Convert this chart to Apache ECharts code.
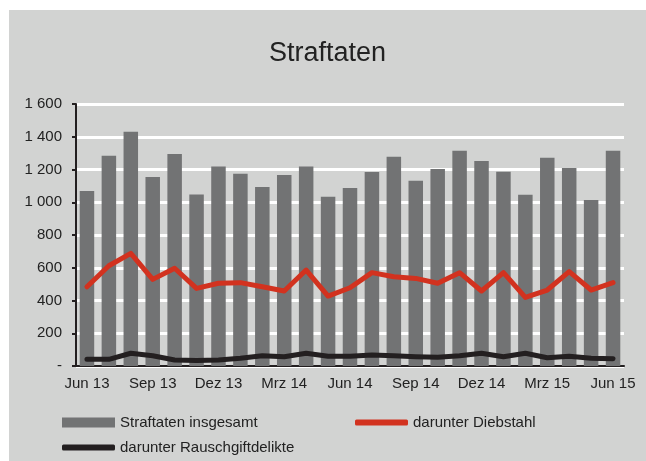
<!DOCTYPE html>
<html>
<head>
<meta charset="utf-8">
<script src="https://cdn.jsdelivr.net/npm/echarts@6/dist/echarts.min.js"></script>
<style>
  html, body { margin: 0; padding: 0; background: #fff; }
  #chart { position: absolute; left: 9px; top: 10px; width: 637px; height: 451px; background: #d2d3d2; }
</style>
</head>
<body>
<div id="chart"></div>
<script>
  // Monatswerte Jun 13 - Jun 15
  const months = ['Jun 13', 'Jul 13', 'Aug 13', 'Sep 13', 'Okt 13', 'Nov 13', 'Dez 13', 'Jan 14', 'Feb 14',
    'Mrz 14', 'Apr 14', 'Mai 14', 'Jun 14', 'Jul 14', 'Aug 14', 'Sep 14', 'Okt 14', 'Nov 14', 'Dez 14',
    'Jan 15', 'Feb 15', 'Mrz 15', 'Apr 15', 'Mai 15', 'Jun 15'];
  const straftaten = [1068, 1284, 1431, 1154, 1295, 1048, 1219, 1174, 1093, 1166, 1219, 1034, 1087,
    1185, 1278, 1132, 1203, 1315, 1252, 1187, 1046, 1272, 1209, 1014, 1315];
  const diebstahl = [484, 612, 688, 529, 597, 474, 505, 509, 484, 458, 586, 427, 478,
    570, 545, 535, 505, 570, 458, 570, 419, 464, 576, 464, 509];
  const rauschgift = [41, 41, 78, 63, 37, 33, 37, 47, 63, 57, 78, 60, 60,
    67, 63, 57, 53, 63, 78, 57, 78, 50, 60, 47, 45];
  const yTicks = [0, 200, 400, 600, 800, 1000, 1200, 1400, 1600];

  const font = 'Liberation Sans, Arial, sans-serif';
  const ink = '#231f20';

  const chart = echarts.init(document.getElementById('chart'));
  chart.setOption({
    textStyle: { fontFamily: font },
    title: {
      text: 'Straftaten',
      left: 'center',
      top: 25,
      textStyle: { fontSize: 27, fontWeight: 'normal', color: '#222', fontFamily: font }
    },
    legend: [
      {
        data: ['Straftaten insgesamt'],
        left: 53, top: 405, padding: 0,
        itemWidth: 53, itemHeight: 10,
        icon: 'rect',
        textStyle: { fontSize: 15, color: '#222' }
      },
      {
        data: ['darunter Diebstahl'],
        left: 346, top: 405, padding: 0,
        itemWidth: 53, itemHeight: 6,
        icon: 'roundRect',
        textStyle: { fontSize: 15, color: '#222' }
      },
      {
        data: ['darunter Rauschgiftdelikte'],
        left: 53, top: 430, padding: 0,
        itemWidth: 53, itemHeight: 6,
        icon: 'roundRect',
        textStyle: { fontSize: 15, color: '#222' }
      }
    ],
    grid: { left: 67, right: 22, top: 94, bottom: 95 },
    xAxis: {
      type: 'category',
      data: months,
      axisLine: { lineStyle: { color: ink, width: 2 } },
      axisTick: { interval: 2, length: 6, lineStyle: { color: ink, width: 2 } },
      axisLabel: { interval: 2, fontSize: 15, color: '#222', margin: 10 }
    },
    yAxis: {
      type: 'value',
      min: yTicks[0],
      max: yTicks[yTicks.length - 1],
      interval: 200,
      axisLine: { show: true, lineStyle: { color: ink, width: 2 } },
      axisTick: { show: true, length: 4, lineStyle: { color: ink, width: 2 } },
      axisLabel: {
        fontSize: 15,
        color: '#222',
        margin: 14,
        formatter: (v) => v === 0 ? '-' : String(v).replace(/\B(?=(\d{3})+(?!\d))/g, ' ')
      },
      splitLine: { lineStyle: { color: '#ffffff', width: 3 } }
    },
    series: [
      {
        name: 'Straftaten insgesamt',
        type: 'bar',
        data: straftaten,
        barWidth: 14.5,
        itemStyle: { color: '#727374' }
      },
      {
        name: 'darunter Diebstahl',
        type: 'line',
        data: diebstahl,
        symbol: 'none',
        itemStyle: { color: '#d2321f' },
        lineStyle: { color: '#d2321f', width: 5, cap: 'round', join: 'round' }
      },
      {
        name: 'darunter Rauschgiftdelikte',
        type: 'line',
        data: rauschgift,
        symbol: 'none',
        itemStyle: { color: ink },
        lineStyle: { color: ink, width: 5, cap: 'round', join: 'round' }
      }
    ]
  });
</script>
</body>
</html>
